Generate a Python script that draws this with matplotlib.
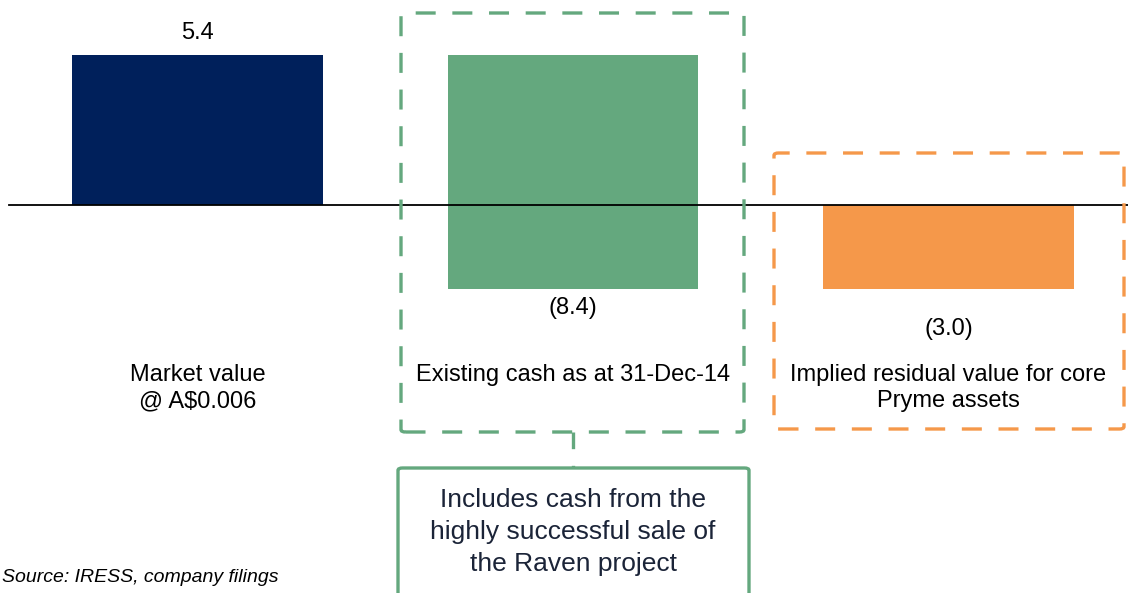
import matplotlib
matplotlib.use("Agg")
import matplotlib.pyplot as plt
from matplotlib.patches import FancyBboxPatch
from matplotlib.lines import Line2D

categories = ["Market value\n@ A$0.006", "Existing cash as at 31-Dec-14",
              "Implied residual value for core\nPryme assets"]
changes = [5.4, -8.4, -3.0]
value_labels = ["5.4", "(8.4)", "(3.0)"]
colors = ["#00205B", "#64A87E", "#F5984A"]
callout_text = "Includes cash from the\nhighly successful sale of\nthe Raven project"
source_text = "Source: IRESS, company filings"

# waterfall bases: first bar from 0, second floats from first top, last from 0
bottoms = [0, changes[0], 0]

plt.rcParams['font.family'] = ['Liberation Sans', 'DejaVu Sans']

W, H = 1128, 593
fig = plt.figure(figsize=(W / 100, H / 100), dpi=100)
ax = fig.add_axes([0, 0, 1, 1])
ax.set_xlim(-0.526, 2.478)
ax.set_ylim(-13.94, 7.39)
ax.axis('off')

x = list(range(len(categories)))
ax.bar(x, changes, bottom=bottoms, width=0.668, color=colors, zorder=2)

# baseline
ax.axhline(0, xmin=9 / W, xmax=1, color='black', lw=1.3, zorder=3)

fs = 17
# value labels
for i, (c, b, lab) in enumerate(zip(changes, bottoms, value_labels)):
    if c >= 0:
        ax.annotate(lab, (i, b + c), xytext=(0, 8.5), textcoords='offset points',
                    ha='center', va='bottom', fontsize=fs, color='black')
    else:
        off = -6 if i == 1 else -21
        ax.annotate(lab, (i, b + c), xytext=(0, off), textcoords='offset points',
                    ha='center', va='top', fontsize=fs, color='black')

# category labels
for i, cat in enumerate(categories):
    ax.text(i, -5.70, cat, ha='center', va='top', fontsize=fs, color='black',
            linespacing=1.26)

def px_box(x0, y0, x1, y1, color, ls):
    p = FancyBboxPatch((x0 / W, 1 - y1 / H), (x1 - x0) / W, (y1 - y0) / H,
                       boxstyle="round,pad=0,rounding_size=0.004",
                       transform=fig.transFigure, fill=False, edgecolor=color,
                       lw=2.4, linestyle=ls, clip_on=False)
    fig.patches.append(p)

dash = (0, (6, 5))
px_box(401, 13, 744, 432, "#64A87E", dash)
px_box(774, 153, 1124, 429, "#F5984A", dash)
px_box(398, 468, 749, 640, "#64A87E", '-')

fig.add_artist(Line2D([573 / W, 573 / W], [1 - 432 / H, 1 - 468 / H],
                      transform=fig.transFigure, color="#64A87E", lw=2.4,
                      linestyle=(0, (5, 5))))

fig.text(573 / W, 1 - 532 / H, callout_text, ha='center', va='center',
         fontsize=19, color='#1B2438', linespacing=1.41)

fig.text(2 / W, 1 - 577 / H, source_text, ha='left', va='center',
         fontsize=14, style='italic', color='black')

fig.savefig("out.png", dpi=100)
